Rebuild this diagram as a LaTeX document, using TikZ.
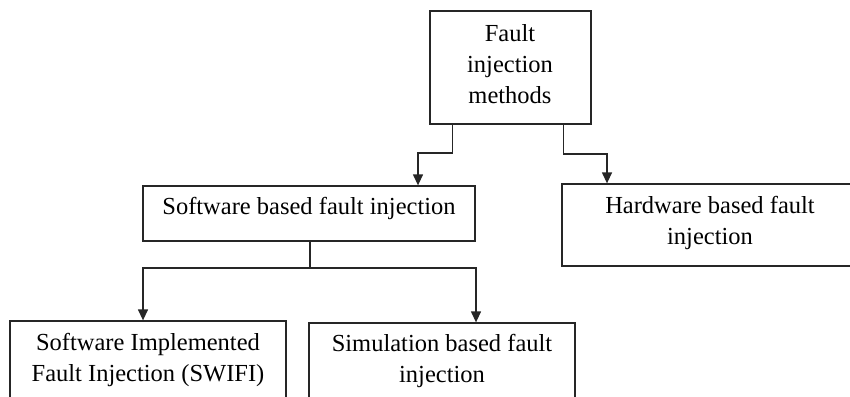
\documentclass[tikz,border=0pt]{standalone}
\usepackage{fontspec}
\setmainfont{Liberation Serif}
\usetikzlibrary{arrows.meta}
\tikzset{
  box/.style={draw=black!85, line width=1.3pt, fill=white, inner sep=0pt},
  lbl/.style={align=center, inner sep=0pt, font=\fontsize{24.5}{31}\selectfont},
  arr/.style={draw=black!85, line width=1.3pt, -{Triangle[length=11pt,width=10pt]}},
  ln/.style={draw=black!85, line width=1.3pt}
}
\begin{document}
\begin{tikzpicture}[x=1pt,y=-1pt]
\useasboundingbox (0,0) rectangle (850,396);
\clip (0,0) rectangle (850,396);
\fill[white] (0,0) rectangle (850,396);
% boxes
\node[box, minimum width=161pt, minimum height=113pt] (top) at (510.5,67.5) {};
\node[box, minimum width=332pt, minimum height=55pt] (sw) at (309,213.5) {};
\node[box, minimum width=296pt, minimum height=82pt] (hw) at (710,225) {};
\node[box, minimum width=276pt, minimum height=100pt] (swifi) at (148,371) {};
\node[box, minimum width=266pt, minimum height=100pt] (sim) at (442,373) {};
% labels
\node[lbl] (topt) at (510,64) {Fault\\injection\\methods};
\node[lbl] (swt) at (309,208) {Software based fault injection};
\node[lbl] (hwt) at (710,223) {Hardware based fault\\injection};
\node[lbl] (swifit) at (148,360) {Software Implemented\\Fault Injection (SWIFI)};
\node[lbl] (simt) at (442,361) {Simulation based fault\\injection};
% connectors
\coordinate (e1) at (418,153);
\coordinate (e2) at (607,154);
\coordinate (e3) at (310,268);
\coordinate (e4) at (143,268);
\coordinate (e5) at (476,268);
\draw[arr] ([xshift=23pt]top.south west) |- (e1) -- (e1 |- sw.north);
\draw[arr] ([xshift=-28pt]top.south east) |- (e2) -- (e2 |- hw.north);
\draw[ln] (sw.south -| e3) -- (e3);
\draw[arr] (e3) -- (e4) -- (e4 |- swifi.north);
\draw[arr] (e3) -- (e5) -- (e5 |- sim.north);
\end{tikzpicture}
\end{document}
